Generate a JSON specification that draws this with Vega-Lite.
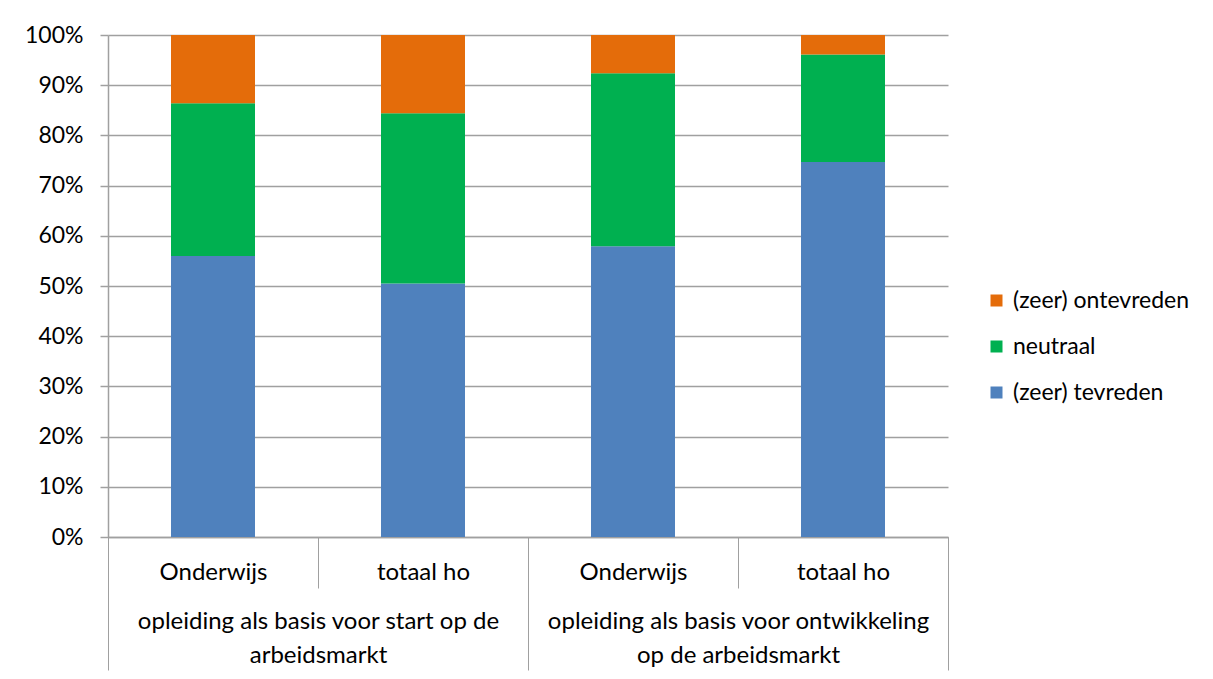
{
  "$schema": "https://vega.github.io/schema/vega-lite/v6.json",
  "autosize": "none",
  "width": 840,
  "height": 502,
  "padding": {"left": 108, "top": 35, "right": 265, "bottom": 142},
  "background": "white",
  "config": {
    "view": {"stroke": null},
    "font": "Lato",
    "axis": {"labelFont": "Lato", "labelColor": "#000000", "labelFontSize": 23}
  },
  "data": {
    "values": [
      {"bar": "start|Onderwijs", "group": "opleiding als basis voor start op de|arbeidsmarkt", "oordeel": "(zeer) tevreden", "o": 1, "aandeel": 0.560},
      {"bar": "start|Onderwijs", "group": "opleiding als basis voor start op de|arbeidsmarkt", "oordeel": "neutraal", "o": 2, "aandeel": 0.304},
      {"bar": "start|Onderwijs", "group": "opleiding als basis voor start op de|arbeidsmarkt", "oordeel": "(zeer) ontevreden", "o": 3, "aandeel": 0.136},
      {"bar": "start|totaal ho", "group": "opleiding als basis voor start op de|arbeidsmarkt", "oordeel": "(zeer) tevreden", "o": 1, "aandeel": 0.505},
      {"bar": "start|totaal ho", "group": "opleiding als basis voor start op de|arbeidsmarkt", "oordeel": "neutraal", "o": 2, "aandeel": 0.339},
      {"bar": "start|totaal ho", "group": "opleiding als basis voor start op de|arbeidsmarkt", "oordeel": "(zeer) ontevreden", "o": 3, "aandeel": 0.156},
      {"bar": "ontw|Onderwijs", "group": "opleiding als basis voor ontwikkeling|op de arbeidsmarkt", "oordeel": "(zeer) tevreden", "o": 1, "aandeel": 0.579},
      {"bar": "ontw|Onderwijs", "group": "opleiding als basis voor ontwikkeling|op de arbeidsmarkt", "oordeel": "neutraal", "o": 2, "aandeel": 0.345},
      {"bar": "ontw|Onderwijs", "group": "opleiding als basis voor ontwikkeling|op de arbeidsmarkt", "oordeel": "(zeer) ontevreden", "o": 3, "aandeel": 0.076},
      {"bar": "ontw|totaal ho", "group": "opleiding als basis voor ontwikkeling|op de arbeidsmarkt", "oordeel": "(zeer) tevreden", "o": 1, "aandeel": 0.747},
      {"bar": "ontw|totaal ho", "group": "opleiding als basis voor ontwikkeling|op de arbeidsmarkt", "oordeel": "neutraal", "o": 2, "aandeel": 0.214},
      {"bar": "ontw|totaal ho", "group": "opleiding als basis voor ontwikkeling|op de arbeidsmarkt", "oordeel": "(zeer) ontevreden", "o": 3, "aandeel": 0.039}
    ]
  },
  "layer": [
    {
      "mark": {"type": "bar", "width": {"band": 0.4}},
      "encoding": {
        "x": {
          "field": "bar", "type": "nominal", "sort": null,
          "scale": {"paddingInner": 0, "paddingOuter": 0},
          "axis": {
            "title": null, "labelAngle": 0,
            "labelExpr": "split(datum.label, '|')[1]",
            "tickBand": "extent", "tickSize": 51, "tickColor": "#a0a0a0", "tickWidth": 1,
            "domainColor": "#a0a0a0", "domainWidth": 1.5,
            "labelBaseline": "middle", "labelPadding": -16, "labelFontSize": 24
          }
        },
        "y": {
          "field": "aandeel", "type": "quantitative", "stack": "zero",
          "scale": {"domain": [0, 1]},
          "axis": {
            "title": null, "format": ".0%", "values": [0, 0.1, 0.2, 0.3, 0.4, 0.5, 0.6, 0.7, 0.8, 0.9, 1],
            "gridColor": "#a0a0a0", "gridWidth": 1.5,
            "tickColor": "#a0a0a0", "tickSize": 8, "tickWidth": 1.5,
            "domainColor": "#a0a0a0", "domainWidth": 1.5,
            "labelPadding": 17, "labelFontSize": 23
          }
        },
        "color": {
          "field": "oordeel", "type": "nominal",
          "scale": {"domain": ["(zeer) ontevreden", "neutraal", "(zeer) tevreden"], "range": ["#E46C0A", "#00B050", "#4F81BD"]},
          "legend": {
            "title": null, "orient": "none", "legendX": 877, "legendY": 254,
            "symbolType": "square", "symbolSize": 144, "symbolStrokeWidth": 0,
            "labelFont": "Lato", "labelFontSize": 23, "labelColor": "#000000",
            "rowPadding": 22, "labelOffset": 5, "labelLimit": 300
          }
        },
        "order": {"field": "o", "type": "quantitative", "sort": "ascending"}
      }
    },
    {
      "mark": {"type": "point", "opacity": 0},
      "encoding": {
        "x": {
          "field": "group", "type": "nominal", "sort": null,
          "scale": {"paddingInner": 0, "paddingOuter": 0},
          "axis": {
            "title": null, "orient": "bottom", "labelAngle": 0,
            "labelExpr": "split(datum.label, '|')",
            "tickBand": "extent", "tickSize": 133, "tickColor": "#a0a0a0", "tickWidth": 1,
            "domain": false, "grid": false,
            "labelBaseline": "top", "labelPadding": -61, "labelLineHeight": 34,
            "labelFontSize": 24, "labelLimit": 500
          }
        }
      }
    }
  ],
  "resolve": {"scale": {"x": "independent"}, "axis": {"x": "independent"}}
}
